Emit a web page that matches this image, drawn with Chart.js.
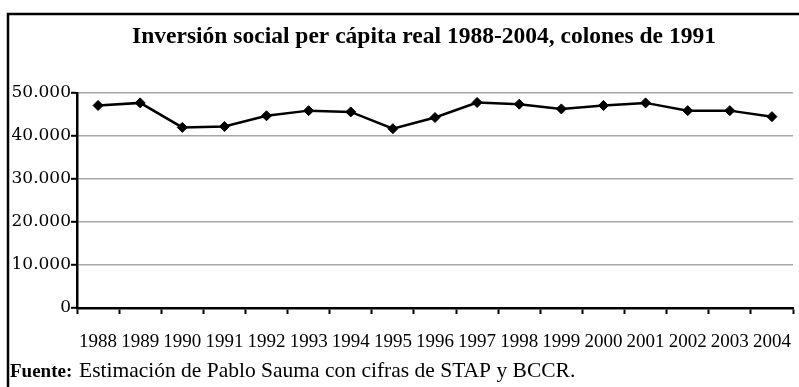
<!DOCTYPE html>
<html>
<head>
<meta charset="utf-8">
<script src="https://cdn.jsdelivr.net/npm/chart.js@4"></script>
<style>
    html, body { margin: 0; padding: 0; background: #fff; }
    #wrap { width: 799px; height: 387px; position: relative; }
</style>
</head>
<body>
<div id="wrap"><canvas id="inversionChart"></canvas></div>
<script>
// Inversión social per cápita real, colones de 1991
const years = ['1988', '1989', '1990', '1991', '1992', '1993', '1994', '1995', '1996',
               '1997', '1998', '1999', '2000', '2001', '2002', '2003', '2004'];
const inversion = [47100, 47700, 42000, 42200, 44700, 45900, 45600, 41700, 44300,
                   47800, 47400, 46300, 47100, 47700, 45900, 45900, 44500];
const yTicks = [0, 10000, 20000, 30000, 40000, 50000];

const titleText = 'Inversión social per cápita real 1988-2004, colones de 1991';
const sourceLabel = 'Fuente:';
const sourceText = 'Estimación de Pablo Sauma con cifras de STAP y BCCR.';

const serif = '"Liberation Serif", "Times New Roman", serif';

// thousands separated with a dot
function fmt(v) {
    return String(v).replace(/\B(?=(\d{3})+(?!\d))/g, '.');
}

// frame, title and source note
const decorations = {
    id: 'decorations',
    afterDraw(chart) {
        const c = chart.ctx;
        c.save();
        c.strokeStyle = '#000';
        c.lineWidth = 2.5;
        c.beginPath();
        c.moveTo(8, 387);
        c.lineTo(8, 14);
        c.lineTo(799, 14);
        c.stroke();

        c.fillStyle = '#000';
        c.textBaseline = 'middle';
        c.textAlign = 'center';
        c.font = 'bold 23.5px ' + serif;
        c.fillText(titleText, 424, 37);

        c.textAlign = 'left';
        c.textBaseline = 'alphabetic';
        c.font = 'bold 19px ' + serif;
        c.fillText(sourceLabel, 10, 377);
        c.font = '21.5px ' + serif;
        c.fillText(sourceText, 79, 377);
        c.restore();
    }
};

new Chart(document.getElementById('inversionChart'), {
    type: 'line',
    data: {
        labels: years,
        datasets: [{
            data: inversion,
            borderColor: '#000',
            backgroundColor: '#000',
            borderWidth: 2.5,
            tension: 0,
            pointStyle: 'rectRot',
            pointRadius: 5,
            pointBorderWidth: 1
        }]
    },
    options: {
        responsive: true,
        maintainAspectRatio: false,
        animation: false,
        layout: { padding: { left: 0, right: 5, top: 93, bottom: 0 } },
        plugins: {
            legend: { display: false },
            tooltip: { enabled: false }
        },
        scales: {
            x: {
                offset: true,
                afterFit(scale) {
                    scale.height = 79;
                    scale.paddingLeft = 0;
                    scale.paddingRight = 0;
                },
                grid: {
                    offset: true,
                    drawOnChartArea: false,
                    tickLength: 6,
                    tickColor: '#000',
                    tickWidth: 2
                },
                border: { color: '#000', width: 2.5 },
                ticks: {
                    color: '#000',
                    font: { family: serif, size: 19 },
                    maxRotation: 0,
                    autoSkip: false,
                    padding: 17
                }
            },
            y: {
                min: 0,
                max: 50000,
                afterFit(scale) {
                    scale.width = 77;
                    scale.paddingTop = 0;
                    scale.paddingBottom = 0;
                },
                afterBuildTicks(scale) {
                    scale.ticks = yTicks.map(v => ({ value: v }));
                },
                grid: {
                    color: '#a8a8a8',
                    lineWidth: 1.6,
                    tickLength: 6,
                    tickColor: '#000',
                    tickWidth: 2
                },
                border: { color: '#000', width: 2.5 },
                ticks: {
                    color: '#000',
                    font: { family: '"DejaVu Serif", serif', size: 17 },
                    padding: 0,
                    callback: v => fmt(v)
                }
            }
        }
    },
    plugins: [decorations]
});
</script>
</body>
</html>
